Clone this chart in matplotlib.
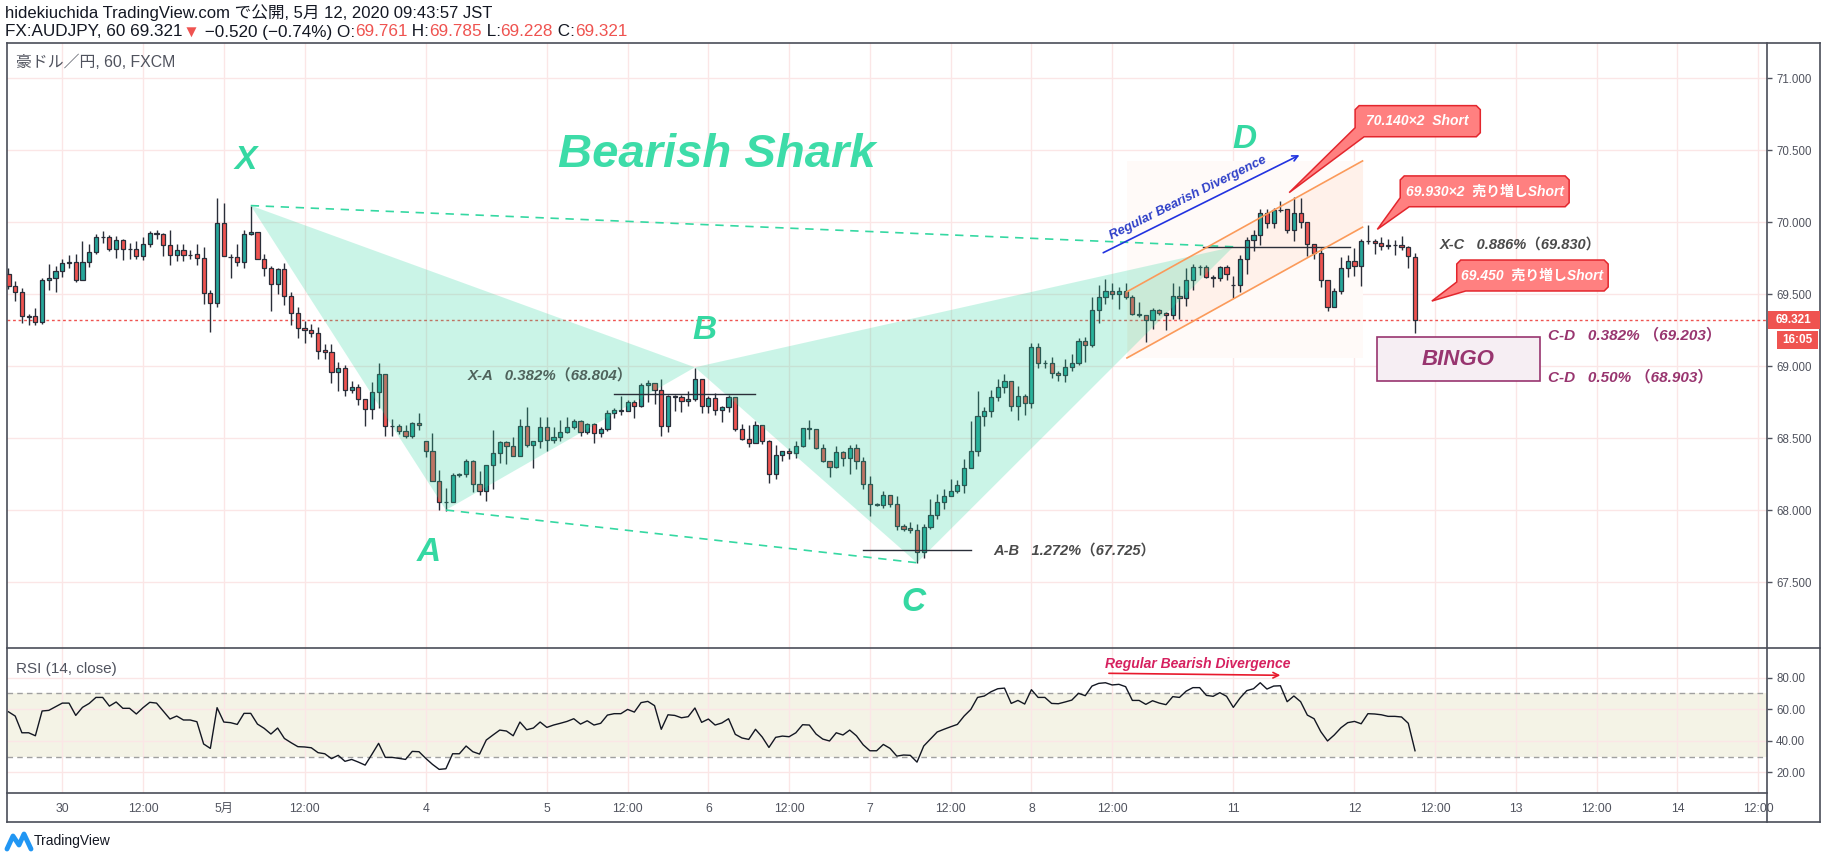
import matplotlib
matplotlib.use("Agg")
import matplotlib.pyplot as plt
from matplotlib.patches import Rectangle, Polygon
from matplotlib.lines import Line2D
from matplotlib.transforms import IdentityTransform
import numpy as np

plt.rcParams['font.family'] = ['Liberation Sans', 'Noto Sans CJK JP', 'DejaVu Sans']

# hourly bars, index 0 = Apr 30 00:00 (weekend hours skipped)
bar_idx = list(range(-8, 202))

opens = [
    69.639, 69.556, 69.514, 69.347, 69.347, 69.306, 69.597, 69.611, 69.660, 69.718,
    69.722, 69.597, 69.722, 69.792, 69.896, 69.896, 69.812, 69.875, 69.812, 69.812,
    69.764, 69.847, 69.924, 69.919, 69.840, 69.771, 69.806, 69.773, 69.778, 69.750,
    69.507, 69.438, 69.993, 69.759, 69.757, 69.722, 69.917, 69.931, 69.748, 69.681,
    69.569, 69.674, 69.486, 69.368, 69.264, 69.250, 69.229, 69.113, 69.097, 68.958,
    68.986, 68.833, 68.854, 68.771, 68.701, 68.819, 68.944, 68.586, 68.586, 68.551,
    68.517, 68.604, 68.479, 68.410, 68.202, 68.061, 68.061, 68.243, 68.250, 68.340,
    68.181, 68.137, 68.313, 68.396, 68.472, 68.449, 68.375, 68.586, 68.452, 68.479,
    68.576, 68.486, 68.507, 68.542, 68.576, 68.618, 68.544, 68.597, 68.535, 68.562,
    68.673, 68.692, 68.692, 68.750, 68.722, 68.868, 68.882, 68.833, 68.583, 68.789,
    68.785, 68.759, 68.771, 68.910, 68.722, 68.778, 68.694, 68.715, 68.785, 68.567,
    68.497, 68.465, 68.590, 68.479, 68.250, 68.382, 68.410, 68.396, 68.444, 68.567,
    68.562, 68.430, 68.340, 68.299, 68.403, 68.361, 68.430, 68.340, 68.180, 68.042,
    68.035, 68.104, 68.044, 67.891, 67.877, 67.861, 67.708, 67.882, 67.967, 68.060,
    68.097, 68.134, 68.173, 68.294, 68.409, 68.652, 68.687, 68.784, 68.854, 68.896,
    68.722, 68.792, 68.743, 69.132, 69.023, 69.023, 68.951, 68.937, 68.993, 69.021,
    69.174, 69.146, 69.389, 69.479, 69.521, 69.500, 69.521, 69.479, 69.359, 69.359,
    69.319, 69.389, 69.368, 69.354, 69.486, 69.472, 69.597, 69.687, 69.687, 69.618,
    69.611, 69.687, 69.565, 69.565, 69.743, 69.875, 69.912, 70.062, 69.993, 70.085,
    70.090, 69.944, 70.062, 70.000, 69.847, 69.785, 69.597, 69.414, 69.520, 69.680,
    69.729, 69.694, 69.868, 69.868, 69.854, 69.838, 69.840, 69.840, 69.826, 69.761,
]
highs = [
    69.681, 69.593, 69.542, 69.363, 69.403, 69.611, 69.711, 69.697, 69.748, 69.773,
    69.778, 69.870, 69.850, 69.919, 69.940, 69.910, 69.905, 69.882, 69.854, 69.870,
    69.900, 69.937, 69.944, 69.928, 69.944, 69.852, 69.850, 69.808, 69.850, 69.826,
    69.530, 70.167, 70.134, 69.778, 69.850, 69.947, 70.116, 69.931, 69.778, 69.694,
    69.685, 69.718, 69.516, 69.412, 69.317, 69.292, 69.271, 69.153, 69.157, 69.030,
    69.009, 68.898, 68.877, 68.771, 68.891, 69.020, 68.944, 68.632, 68.600, 68.590,
    68.611, 68.674, 68.479, 68.535, 68.278, 68.153, 68.262, 68.256, 68.356, 68.349,
    68.273, 68.313, 68.556, 68.484, 68.479, 68.512, 68.632, 68.718, 68.479, 68.651,
    68.651, 68.576, 68.628, 68.651, 68.634, 68.627, 68.604, 68.604, 68.580, 68.696,
    68.713, 68.794, 68.766, 68.766, 68.887, 68.903, 68.882, 68.910, 68.801, 68.798,
    68.803, 68.829, 68.986, 68.910, 68.794, 68.813, 68.724, 68.801, 68.785, 68.597,
    68.595, 68.620, 68.595, 68.488, 68.451, 68.414, 68.433, 68.479, 68.569, 68.627,
    68.562, 68.460, 68.340, 68.447, 68.414, 68.451, 68.460, 68.368, 68.238, 68.049,
    68.134, 68.104, 68.099, 67.907, 67.921, 67.903, 67.903, 68.076, 68.111, 68.150,
    68.217, 68.210, 68.354, 68.620, 68.826, 68.719, 68.835, 68.909, 68.946, 68.896,
    68.863, 68.808, 69.160, 69.160, 69.044, 69.062, 68.965, 69.049, 69.086, 69.197,
    69.201, 69.484, 69.562, 69.604, 69.578, 69.548, 69.576, 69.493, 69.447, 69.359,
    69.403, 69.400, 69.377, 69.578, 69.558, 69.681, 69.711, 69.701, 69.701, 69.632,
    69.696, 69.703, 69.627, 69.773, 69.896, 69.947, 70.090, 70.090, 70.102, 70.147,
    70.090, 70.173, 70.171, 70.000, 69.847, 69.819, 69.597, 69.541, 69.756, 69.771,
    69.822, 69.882, 69.981, 69.882, 69.900, 69.882, 69.877, 69.905, 69.835, 69.785,
]
lows = [
    69.535, 69.456, 69.303, 69.289, 69.285, 69.296, 69.530, 69.519, 69.623, 69.685,
    69.588, 69.597, 69.692, 69.778, 69.859, 69.803, 69.755, 69.741, 69.748, 69.745,
    69.738, 69.831, 69.884, 69.769, 69.706, 69.734, 69.734, 69.743, 69.706, 69.435,
    69.241, 69.410, 69.764, 69.616, 69.694, 69.685, 69.910, 69.748, 69.630, 69.387,
    69.505, 69.428, 69.287, 69.199, 69.164, 69.206, 69.054, 69.052, 68.882, 68.826,
    68.792, 68.812, 68.734, 68.588, 68.632, 68.709, 68.519, 68.519, 68.528, 68.500,
    68.500, 68.558, 68.368, 68.202, 68.003, 67.998, 68.061, 68.234, 68.234, 68.128,
    68.107, 68.068, 68.146, 68.326, 68.324, 68.375, 68.375, 68.438, 68.296, 68.431,
    68.414, 68.465, 68.479, 68.535, 68.562, 68.519, 68.528, 68.465, 68.511, 68.553,
    68.643, 68.664, 68.687, 68.638, 68.720, 68.754, 68.740, 68.516, 68.546, 68.689,
    68.683, 68.724, 68.759, 68.678, 68.678, 68.662, 68.616, 68.685, 68.553, 68.486,
    68.442, 68.465, 68.458, 68.192, 68.220, 68.345, 68.359, 68.361, 68.440, 68.493,
    68.423, 68.336, 68.234, 68.292, 68.306, 68.255, 68.285, 68.150, 67.963, 68.030,
    68.016, 68.021, 67.861, 67.859, 67.840, 67.631, 67.668, 67.870, 67.937, 68.012,
    68.097, 68.118, 68.118, 68.294, 68.378, 68.588, 68.650, 68.761, 68.817, 68.687,
    68.625, 68.659, 68.713, 68.986, 68.990, 68.921, 68.900, 68.893, 68.970, 69.007,
    69.028, 69.136, 69.299, 69.430, 69.469, 69.396, 69.470, 69.354, 69.345, 69.171,
    69.262, 69.354, 69.250, 69.326, 69.331, 69.421, 69.528, 69.636, 69.611, 69.548,
    69.594, 69.599, 69.472, 69.519, 69.641, 69.803, 69.843, 69.963, 69.963, 70.071,
    69.923, 69.872, 69.963, 69.766, 69.743, 69.553, 69.382, 69.410, 69.504, 69.622,
    69.627, 69.555, 69.847, 69.780, 69.808, 69.815, 69.773, 69.808, 69.680, 69.228,
]
closes = [
    69.556, 69.514, 69.347, 69.345, 69.306, 69.597, 69.611, 69.660, 69.715, 69.722,
    69.597, 69.722, 69.792, 69.896, 69.898, 69.812, 69.875, 69.812, 69.814, 69.764,
    69.847, 69.924, 69.921, 69.840, 69.771, 69.806, 69.771, 69.775, 69.750, 69.507,
    69.438, 69.993, 69.764, 69.761, 69.722, 69.917, 69.931, 69.748, 69.681, 69.569,
    69.674, 69.486, 69.368, 69.264, 69.250, 69.229, 69.109, 69.097, 68.958, 68.986,
    68.833, 68.854, 68.771, 68.701, 68.819, 68.944, 68.586, 68.588, 68.551, 68.517,
    68.604, 68.590, 68.410, 68.202, 68.056, 68.061, 68.243, 68.250, 68.340, 68.181,
    68.137, 68.313, 68.396, 68.472, 68.449, 68.375, 68.586, 68.452, 68.479, 68.576,
    68.486, 68.507, 68.542, 68.576, 68.618, 68.544, 68.597, 68.535, 68.562, 68.673,
    68.694, 68.694, 68.750, 68.722, 68.868, 68.882, 68.833, 68.583, 68.791, 68.791,
    68.759, 68.771, 68.910, 68.722, 68.778, 68.694, 68.715, 68.785, 68.567, 68.497,
    68.465, 68.590, 68.479, 68.250, 68.382, 68.410, 68.396, 68.444, 68.569, 68.569,
    68.430, 68.340, 68.299, 68.403, 68.361, 68.430, 68.340, 68.180, 68.042, 68.040,
    68.104, 68.044, 67.891, 67.873, 67.861, 67.708, 67.882, 67.967, 68.060, 68.097,
    68.134, 68.173, 68.294, 68.409, 68.652, 68.687, 68.784, 68.854, 68.896, 68.722,
    68.792, 68.743, 69.132, 69.021, 69.023, 68.951, 68.937, 68.993, 69.021, 69.174,
    69.146, 69.389, 69.479, 69.521, 69.500, 69.521, 69.479, 69.361, 69.361, 69.319,
    69.389, 69.368, 69.354, 69.486, 69.472, 69.597, 69.687, 69.689, 69.620, 69.616,
    69.687, 69.638, 69.567, 69.743, 69.875, 69.912, 70.062, 69.993, 70.083, 70.087,
    69.944, 70.062, 70.000, 69.847, 69.789, 69.597, 69.414, 69.520, 69.680, 69.729,
    69.694, 69.868, 69.870, 69.854, 69.836, 69.840, 69.842, 69.826, 69.764, 69.321,
]
rsi = [
    58.4, 55.7, 45.1, 45.1, 43.2, 58.9, 59.3, 61.6, 63.9, 63.9,
    56.1, 61.2, 63.7, 67.5, 67.5, 62.0, 64.6, 60.6, 60.6, 57.0,
    61.0, 64.4, 63.9, 58.9, 53.8, 55.7, 53.2, 53.2, 52.1, 38.0,
    35.2, 61.0, 51.9, 51.5, 50.4, 57.4, 57.4, 50.6, 47.9, 44.3,
    48.1, 41.5, 38.8, 36.3, 36.1, 35.6, 32.5, 31.8, 28.7, 30.8,
    27.0, 28.2, 26.5, 24.6, 31.4, 38.4, 29.5, 29.5, 28.9, 28.2,
    33.3, 33.1, 28.9, 25.1, 21.9, 22.3, 31.8, 31.8, 36.7, 33.1,
    31.6, 40.5, 43.7, 46.8, 46.2, 43.2, 51.9, 47.0, 48.1, 51.9,
    48.5, 50.0, 51.1, 52.3, 54.0, 50.6, 52.7, 50.0, 51.1, 56.3,
    57.2, 57.2, 59.9, 58.2, 64.2, 65.0, 62.3, 47.3, 56.5, 56.1,
    54.6, 55.3, 60.8, 51.7, 53.8, 50.0, 51.3, 54.0, 44.1, 41.8,
    40.9, 47.3, 42.4, 35.8, 42.2, 43.0, 42.6, 45.1, 50.2, 50.0,
    44.3, 41.1, 39.9, 45.1, 43.7, 46.8, 43.2, 37.5, 33.7, 33.7,
    37.7, 35.2, 30.3,
    31.0, 30.8, 26.5, 36.7, 41.1, 45.6, 47.3, 48.9, 50.4, 55.7,
    59.9, 67.5, 68.4, 71.1, 73.0, 73.4, 63.7, 65.6, 63.3, 72.4,
    67.5, 67.5, 63.7, 63.5, 64.6, 65.8, 70.1, 68.6, 74.7, 76.4,
    76.8, 75.4, 75.8, 74.3, 65.6, 65.6, 63.1, 65.4, 63.9, 62.9,
    68.0, 67.5, 71.5, 73.7, 73.7, 68.8, 68.2, 70.5, 68.2, 61.2,
    67.1, 71.8, 73.0, 76.8, 72.8, 74.7, 74.9, 64.8, 68.4, 64.8,
    56.3, 54.0, 45.8, 39.9, 43.7, 48.3, 51.5, 52.3, 50.8, 57.2,
    57.0, 56.5, 55.5, 55.5, 55.1, 51.1, 33.7,
]

tick_pos = [0, 12, 24, 36, 54, 72, 84, 96, 108, 120, 132, 144, 156, 174, 192, 204, 216, 228, 240, 252]
tick_labels = ['30', '12:00', '5月', '12:00', '4', '5', '12:00', '6', '12:00', '7', '12:00',
               '8', '12:00', '11', '12', '12:00', '13', '12:00', '14', '12:00']
price_ticks = [67.5, 68.0, 68.5, 69.0, 69.5, 70.0, 70.5, 71.0]
rsi_ticks = [20, 40, 60, 80]

# harmonic pattern X, A, B, C, D
pattern_names = ['X', 'A', 'B', 'C', 'D']
pattern_idx = [28, 57, 94, 127, 174]
pattern_px = [70.116, 68.002, 68.993, 67.636, 69.830]

last_price = 69.321

# ---------------------------------------------------------------
W, H = 1828, 859
fig = plt.figure(figsize=(W / 100, H / 100), dpi=100)
fig.patch.set_facecolor('white')

frame_c = '#4a4e59'
grid_c = '#fbe6e6'
axis_txt = '#50535e'
up_c, dn_c = '#26a69a', '#ef5350'
mint = '#35d8a2'
plum = '#98356f'
bold_it = dict(fontweight='bold', fontstyle='italic')

L, R = 6.7, 1767
ax = fig.add_axes([L / W, 1 - 648 / H, (R - L) / W, (648 - 42.7) / H])
rx = fig.add_axes([L / W, 1 - 793.3 / H, (R - L) / W, (793.3 - 648) / H])

ax.set_xlim(-8.26, 253.3)
ax.set_ylim(67.044, 71.247)
rx.set_xlim(-8.26, 253.3)
rx.set_ylim(6.74, 98.82)

for a in (ax, rx):
    for s in a.spines.values():
        s.set_visible(False)
    a.set_xticks(tick_pos)
    a.grid(True, color=grid_c, lw=1)
    a.set_axisbelow(True)
    a.yaxis.tick_right()
    a.tick_params(axis='y', length=3.5, width=1, color=axis_txt, labelsize=8.3,
                  labelcolor=axis_txt, pad=3)

ax.tick_params(axis='x', length=0, labelbottom=False)
ax.set_yticks(price_ticks, [f'{v:.3f}' for v in price_ticks])
rx.set_xticks(tick_pos, tick_labels)
rx.tick_params(axis='x', length=0, pad=7, labelsize=8.8, labelcolor=axis_txt)
rx.set_yticks(rsi_ticks, [f'{v:.2f}' for v in rsi_ticks])

# candles
x = np.array(bar_idx)
o, h, l, c = (np.array(v) for v in (opens, highs, lows, closes))
cols = [up_c if cc >= oo else dn_c for oo, cc in zip(o, c)]
ax.vlines(x, l, h, color='#2a2e39', lw=1, zorder=3)
ax.bar(x, np.abs(c - o), bottom=np.minimum(o, c), width=0.62, color=cols,
       edgecolor='#2a2e39', linewidth=0.9, zorder=4)

ax.axhline(last_price, color='#ef5350', lw=1, ls=(0, (2, 2)), zorder=2.5)

# shark pattern
px, py = pattern_idx, pattern_px
ax.fill(px[0:3], py[0:3], color='#2ed6a0', alpha=0.25, lw=0, zorder=5)
ax.fill(px[2:5], py[2:5], color='#2ed6a0', alpha=0.25, lw=0, zorder=5)
ax.plot([px[0], px[4]], [py[0], py[4]], color=mint, lw=1.2, ls=(0, (5, 4)), zorder=6)
ax.plot([px[1], px[3]], [py[1], py[3]], color=mint, lw=1.2, ls=(0, (5, 4)), zorder=6)
label_pos = [(27.3, 70.426), (54.5, 67.706), (95.4, 69.252), (126.5, 67.358), (175.7, 70.572)]
for name, (lx, ly) in zip(pattern_names, label_pos):
    ax.text(lx, ly, name, color=mint, fontsize=24, ha='center', va='center', zorder=7, **bold_it)
ax.text(97.3, 70.467, 'Bearish Shark', color='#3ddca8', fontsize=34, ha='center',
        va='center', zorder=7, **bold_it)

# fib levels
ax.plot([82, 103], [68.806, 68.806], color='#2a2e39', lw=1, zorder=6)
ax.text(60.3, 68.928, 'X-A   0.382%（68.804）', color='#4f635c', fontsize=10.8,
        ha='left', va='center', zorder=7, **bold_it)
ax.plot([119, 135], [67.725, 67.725], color='#2a2e39', lw=1, zorder=6)
ax.text(138.4, 67.724, 'A-B   1.272%（67.725）', color='#4a4a4a', fontsize=10.5,
        ha='left', va='center', zorder=7, **bold_it)
ax.plot([169.5, 191.3], [69.83, 69.83], color='#2a2e39', lw=1, zorder=6)
ax.text(204.7, 69.844, 'X-C   0.886%（69.830）', color='#4a4a4a', fontsize=10.5,
        ha='left', va='center', zorder=7, **bold_it)
ax.text(220.7, 69.217, 'C-D   0.382% （69.203）', color=plum, fontsize=11,
        ha='left', va='center', zorder=7, **bold_it)
ax.text(220.7, 68.924, 'C-D   0.50% （68.903）', color=plum, fontsize=11,
        ha='left', va='center', zorder=7, **bold_it)

ax.add_patch(Rectangle((195.4, 68.900), 24.1, 0.301, fc='#f6eef3', ec=plum, lw=1.2, zorder=7))
ax.text(207.45, 69.05, 'BINGO', color=plum, fontsize=16, ha='center', va='center',
        zorder=8, **bold_it)

# parallel channel
ch_x = [158.2, 193.2]
ch_up = [69.518, 70.426]
ch_lo = [69.058, 69.966]
ax.add_patch(Rectangle((ch_x[0], ch_lo[0]), ch_x[1] - ch_x[0], ch_up[1] - ch_lo[0],
                       fc='#fffaf8', ec='none', zorder=1.5))
ax.fill_between(ch_x, ch_lo, ch_up, color='#fff1ea', lw=0, zorder=1.6)
ax.plot(ch_x, ch_up, color='#fb9a5a', lw=1.2, zorder=6)
ax.plot(ch_x, ch_lo, color='#fb9a5a', lw=1.2, zorder=6)

# divergence on price
ax.annotate('', xy=(184.2, 70.475), xytext=(154.3, 69.78),
            arrowprops=dict(arrowstyle='->', color='#2233e0', lw=1.2), zorder=7)
p1 = ax.transData.transform((154.3, 69.78))
p2 = ax.transData.transform((184.2, 70.475))
ang = np.degrees(np.arctan2(p2[1] - p1[1], p2[0] - p1[0]))
ax.text(156.1, 69.86, 'Regular Bearish Divergence', rotation=ang, rotation_mode='anchor',
        ha='left', va='bottom', color='#2e3fc8', fontsize=9.4, zorder=7, **bold_it)


def callout(text, left, right, top, bottom, tip):
    T = ax.transData
    x0, y1 = T.transform((left, top))
    x1, y0 = T.transform((right, bottom))
    tx, ty = T.transform(tip)
    r = 4
    pts = [(x0 + 9, y0), (x1 - r, y0), (x1, y0 + r), (x1, y1 - r), (x1 - r, y1),
           (x0 + r, y1), (x0, y1 - r), (x0, y0 + 9), (tx, ty)]
    ax.add_patch(Polygon(pts, closed=True, transform=IdentityTransform(),
                         fc='#ff8080', ec='#e3262d', lw=1.1, zorder=9))
    ax.text((left + right) / 2, (top + bottom) / 2, text, color='white', fontsize=10,
            ha='center', va='center', zorder=10, **bold_it)


callout('70.140×2  Short', 192.1, 210.7, 70.810, 70.594, (182.3, 70.206))
callout('69.930×2  売り増しShort', 198.8, 223.9, 70.322, 70.108, (195.4, 69.951))
callout('69.450  売り増しShort', 207.2, 229.7, 69.738, 69.523, (203.5, 69.453))

# RSI pane
rx.axhspan(30, 70, color='#f4f3e6', lw=0, zorder=0.5)
rx.axhline(70, color='#a0a0a0', lw=1, ls=(0, (4, 3)), zorder=1)
rx.axhline(30, color='#a0a0a0', lw=1, ls=(0, (4, 3)), zorder=1)
rx.plot(bar_idx, rsi, color='#131722', lw=1, zorder=3)
rx.annotate('', xy=(181.4, 81.5), xytext=(155.1, 82.8),
            arrowprops=dict(arrowstyle='->', color='#e8192c', lw=1.2), zorder=4)
rx.text(155.0, 88.7, 'Regular Bearish Divergence', color='#d6205f', fontsize=10,
        ha='left', va='center', zorder=4, **bold_it)

# frame lines (pixel coords, y from top)
def fline(x0, y0, x1, y1, **kw):
    fig.add_artist(Line2D([x0 / W, x1 / W], [1 - y0 / H, 1 - y1 / H],
                          transform=fig.transFigure, color=frame_c, lw=1.2, **kw))


fline(L, 42.7, 1820, 42.7)
fline(L, 42.7, L, 822)
fline(L, 822, 1820, 822)
fline(1820, 42.7, 1820, 822)
fline(R, 42.7, R, 822)
fline(L, 648, 1820, 648)
fline(L, 793.3, R, 793.3)

# price-scale labels
def scale_label(x0, x1, y0, y1, s):
    fig.add_artist(Rectangle((x0 / W, 1 - y1 / H), (x1 - x0) / W, (y1 - y0) / H,
                             transform=fig.transFigure, fc='#ef5350', ec='none', zorder=5))
    fig.text((x0 + x1) / 2 / W, 1 - (y0 + y1) / 2 / H, s, color='white', fontsize=8.5,
             fontweight='bold', ha='center', va='center', zorder=6)


scale_label(1768, 1820, 311, 329, '69.321')
scale_label(1777, 1818, 331, 348.6, '16:05')

# header
fig.text(5 / W, 1 - 13 / H, 'hidekiuchida TradingView.com で公開, 5月 12, 2020 09:43:57 JST',
         color='#131722', fontsize=12, ha='left', va='center')
header_parts = [('FX:AUDJPY, 60 69.321', '#131722'), ('▼', '#ef5350'),
                (' −0.520 (−0.74%) O:', '#131722'), ('69.761', '#ef5350'),
                (' H:', '#131722'), ('69.785', '#ef5350'), (' L:', '#131722'),
                ('69.228', '#ef5350'), (' C:', '#131722'), ('69.321', '#ef5350')]
renderer = fig.canvas.get_renderer()
cx = 5
for s, col in header_parts:
    t = fig.text(cx / W, 1 - 32 / H, s, color=col, fontsize=12.3, ha='left', va='center')
    cx = t.get_window_extent(renderer).x1

fig.text(15.6 / W, 1 - 62.3 / H, '豪ドル／円, 60, FXCM', color=axis_txt, fontsize=11.4,
         ha='left', va='center')
fig.text(15.5 / W, 1 - 669 / H, 'RSI (14, close)', color=axis_txt, fontsize=11,
         ha='left', va='center')

# footer logo
fig.add_artist(Line2D([7 / W, 13 / W, 19 / W, 24 / W, 31 / W],
                      [1 - 849 / H, 1 - 836 / H, 1 - 845 / H, 1 - 834 / H, 1 - 849 / H],
                      transform=fig.transFigure, color='#2196f3', lw=3.5,
                      solid_joinstyle='round', solid_capstyle='round'))
fig.text(34 / W, 1 - 841 / H, 'TradingView', color='#131722', fontsize=10,
         ha='left', va='center')

fig.savefig('out.png', dpi=100, facecolor='white')
